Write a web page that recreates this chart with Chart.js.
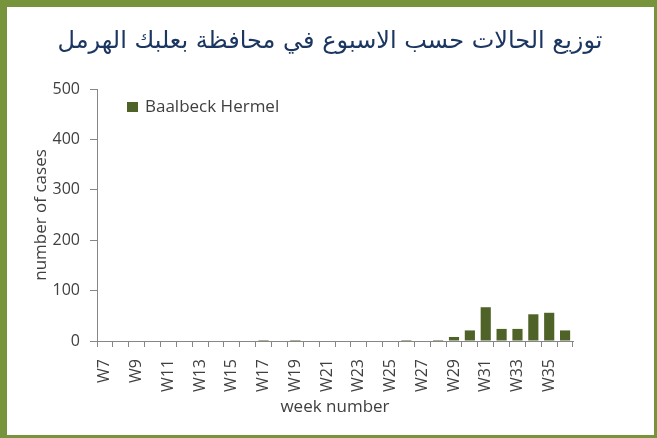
<!DOCTYPE html>
<html>
<head>
<meta charset="utf-8">
<script src="https://cdn.jsdelivr.net/npm/chart.js@4/dist/chart.umd.min.js"></script>
<style>
  body { margin: 0; background: #fff; }
  #frame {
    width: 657px; height: 438px; box-sizing: border-box;
    border-style: solid; border-color: #77933c;
    border-width: 7px 3px 3px 7px;
    background: #fff;
  }
  canvas { display: block; }
</style>
</head>
<body>
<div id="frame">
  <canvas id="chart" width="647" height="428"></canvas>
</div>
<script>
// values
const weeks = [
  "W7", "W8", "W9", "W10", "W11", "W12", "W13", "W14", "W15", "W16",
  "W17", "W18", "W19", "W20", "W21", "W22", "W23", "W24", "W25", "W26",
  "W27", "W28", "W29", "W30", "W31", "W32", "W33", "W34", "W35", "W36"
];
const cases = [
  0, 0, 0, 0, 0, 0, 0, 0, 0, 0,
  2, 0, 2, 0, 0, 0, 0, 0, 0, 2,
  0, 2, 8, 21, 67, 24, 24, 53, 56, 21
];
const seriesName = "Baalbeck Hermel";
const chartTitle = "توزيع الحالات حسب الاسبوع في محافظة بعلبك الهرمل";
const yTicks = [0, 100, 200, 300, 400, 500];

const textColor = "#404040";
const axisColor = "#868686";
const barColor = "#4f6228";
const fontFamily = "'Open Sans', sans-serif";

// title is centred on the frame, legend sits inside the plot: draw both by hand
const headerAndLegend = {
  id: "headerAndLegend",
  afterDraw(chart) {
    const ctx = chart.ctx;
    const ds = chart.data.datasets[0];
    ctx.save();
    ctx.fillStyle = "#1b3660";
    ctx.font = "24px 'DejaVu Sans', sans-serif";
    ctx.textAlign = "center";
    ctx.textBaseline = "middle";
    ctx.fillText(chartTitle, 323, 35);

    ctx.fillStyle = ds.backgroundColor;
    ctx.fillRect(120, 95, 11, 10);
    ctx.fillStyle = textColor;
    ctx.font = "17px " + fontFamily;
    ctx.textAlign = "left";
    ctx.fillText(ds.label, 138, 100);
    ctx.restore();
  }
};

new Chart(document.getElementById("chart").getContext("2d"), {
  type: "bar",
  data: {
    labels: weeks,
    datasets: [{
      label: seriesName,
      data: cases,
      backgroundColor: barColor,
      barPercentage: 0.64,
      categoryPercentage: 1
    }]
  },
  options: {
    responsive: false,
    animation: false,
    layout: { padding: { left: 20, right: 81, top: 82, bottom: 14 } },
    plugins: {
      legend: { display: false },
      tooltip: { enabled: false },
      title: { display: false }
    },
    scales: {
      x: {
        offset: true,
        grid: {
          display: true, drawOnChartArea: false, drawTicks: true,
          tickLength: 6, offset: true, color: axisColor
        },
        border: { color: axisColor },
        ticks: {
          autoSkip: false, minRotation: 90, maxRotation: 90, padding: 12,
          color: textColor, font: { family: fontFamily, size: 16 },
          callback: function (value, index) {
            return index % 2 === 0 ? this.getLabelForValue(value) : "";
          }
        },
        title: {
          display: true, text: "week number", color: textColor,
          font: { family: fontFamily, size: 17 }, padding: { top: 4, bottom: 4 }
        },
        afterFit: (scale) => { scale.height = 80; }
      },
      y: {
        min: 0,
        max: yTicks[yTicks.length - 1],
        grid: {
          display: true, drawOnChartArea: false, drawTicks: true,
          tickLength: 7, color: axisColor
        },
        border: { color: axisColor },
        afterBuildTicks: (scale) => { scale.ticks = yTicks.map(v => ({ value: v })); },
        ticks: {
          padding: 10, color: textColor, font: { family: fontFamily, size: 16 }
        },
        title: {
          display: true, text: "number of cases", color: textColor,
          font: { family: fontFamily, size: 17 }, padding: { top: 4, bottom: 0 }
        },
        afterFit: (scale) => { scale.width = 70; }
      }
    }
  },
  plugins: [headerAndLegend]
});
</script>
</body>
</html>
